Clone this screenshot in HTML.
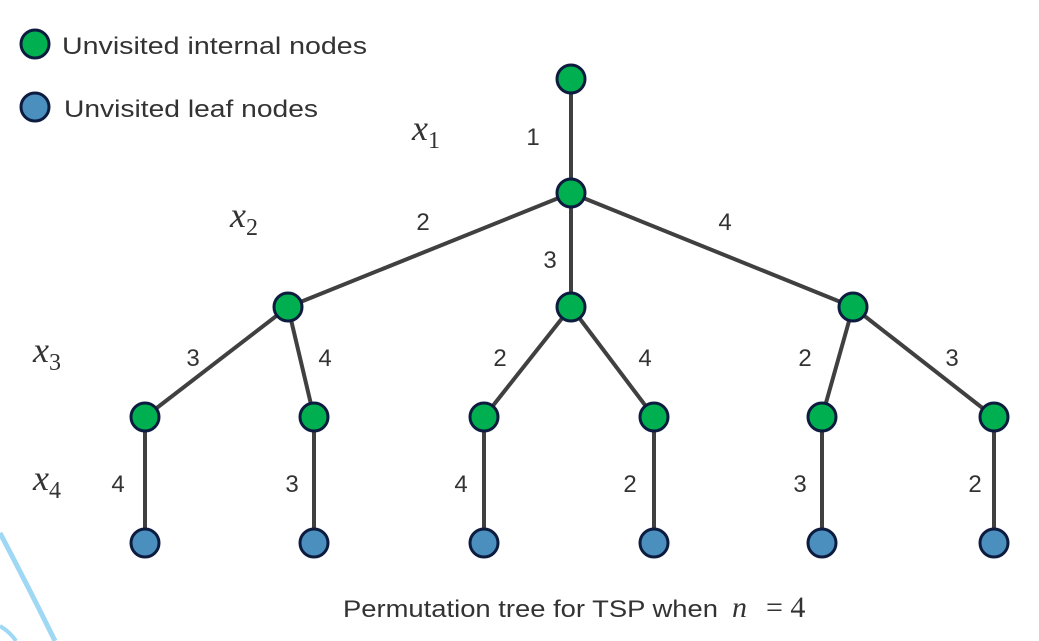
<!DOCTYPE html>
<html><head><meta charset="utf-8"><style>
body{margin:0;background:#fff;width:1039px;height:641px;overflow:hidden}
svg{display:block}
.t{font-family:"Liberation Sans",sans-serif;fill:#333;font-size:24px}
.v{font-family:"Liberation Serif",serif;font-style:italic;fill:#333;font-size:36px}
.s{font-family:"Liberation Serif",serif;fill:#333;font-size:22px}
</style></head><body>
<svg width="1039" height="641">
<path d="M0,533 Q30,590 55,641" stroke="#9fd8f5" stroke-width="5" fill="none"/>
<path d="M0,626 Q10,632 16,641" stroke="#9fd8f5" stroke-width="4" fill="none"/>
<g id="edges"></g><g id="nodes"></g><g id="labels"></g>
<g>
<circle cx="35" cy="44" r="14" fill="#00b050" stroke="#0d1b3e" stroke-width="3"/>
<text class="t" x="62" y="54" font-size="27" textLength="305" lengthAdjust="spacingAndGlyphs">Unvisited internal nodes</text>
<circle cx="35" cy="107" r="14" fill="#4a8fbd" stroke="#0d1b3e" stroke-width="3"/>
<text class="t" x="64" y="117" font-size="27" textLength="254" lengthAdjust="spacingAndGlyphs">Unvisited leaf nodes</text>
</g>
<text class="v" x="412" y="140">x<tspan font-size="24" dy="8" font-style="normal">1</tspan></text>
<text class="v" x="230" y="227">x<tspan font-size="24" dy="8" font-style="normal">2</tspan></text>
<text class="v" x="33" y="362">x<tspan font-size="24" dy="8" font-style="normal">3</tspan></text>
<text class="v" x="33" y="490">x<tspan font-size="24" dy="8" font-style="normal">4</tspan></text>
<text class="t" x="343" y="617" font-size="25"><tspan textLength="375" lengthAdjust="spacingAndGlyphs">Permutation tree for TSP when</tspan><tspan x="732" style="font-family:'Liberation Serif',serif;font-style:italic;font-size:30px">n</tspan><tspan x="766" style="font-family:'Liberation Serif',serif;font-size:30px">= 4</tspan></text>
</svg>
<script>
const nodes=[[571,79],[571,193],[288,307],[571,307],[853,307],[145,417],[314,417],[484,417],[654,417],[822,417],[994,417],[145,543],[314,543],[484,543],[654,543],[822,543],[994,543]];
const parents=[-1,0,1,1,1,2,2,3,3,4,4,5,6,7,8,9,10];
const edgeLabels=["","1","2","3","4","3","4","2","4","2","3","4","3","4","2","3","2"];
const labelPos=[null,[533,145],[423,230],[550,268],[725,230],[193,366],[325,366],[500,366],[645,366],[805,366],[952,366],[118,492],[292,492],[461,492],[630,492],[800,492],[975,492]];
const NS="http://www.w3.org/2000/svg";
const E=document.getElementById('edges'),N=document.getElementById('nodes'),L=document.getElementById('labels');
nodes.forEach((n,i)=>{
 if(parents[i]>=0){const p=nodes[parents[i]];
  const l=document.createElementNS(NS,'line');
  l.setAttribute('x1',p[0]);l.setAttribute('y1',p[1]);l.setAttribute('x2',n[0]);l.setAttribute('y2',n[1]);
  l.setAttribute('stroke','#404040');l.setAttribute('stroke-width','4');
  
  
  E.appendChild(l);
  const t=document.createElementNS(NS,'text');
  t.setAttribute('class','t');t.setAttribute('x',labelPos[i][0]);t.setAttribute('y',labelPos[i][1]);
  t.setAttribute('text-anchor','middle');t.textContent=edgeLabels[i];
  
  
  L.appendChild(t);}
 const c=document.createElementNS(NS,'circle');
 c.setAttribute('cx',n[0]);c.setAttribute('cy',n[1]);c.setAttribute('r','14');
 c.setAttribute('fill',i>=11?'#4a8fbd':'#00b050');c.setAttribute('stroke','#0d1b3e');c.setAttribute('stroke-width','3');
 
 
 N.appendChild(c);
});
</script>
</body></html>
